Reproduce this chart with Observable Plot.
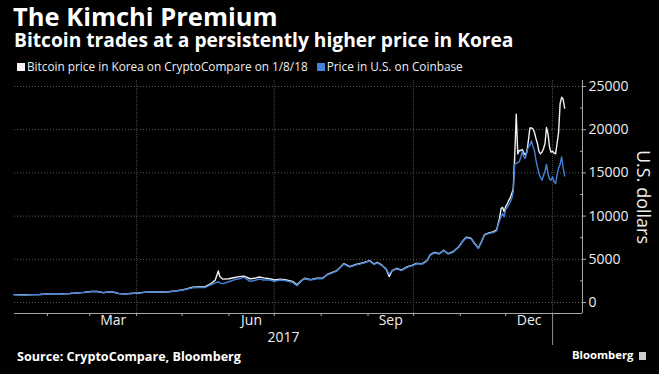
<!DOCTYPE html>
<html><head><meta charset="utf-8">
<script src="https://cdn.jsdelivr.net/npm/d3@7"></script>
<script src="https://cdn.jsdelivr.net/npm/@observablehq/plot@0.6"></script>
<style>
html,body{margin:0;padding:0;background:#000;}
#wrap{position:relative;width:659px;height:374px;background:#000;overflow:hidden;font-family:"Open Sans",sans-serif;color:#fff;}
#title{position:absolute;left:13px;top:3px;font-size:25.5px;font-weight:700;line-height:26px;white-space:nowrap;}
#subtitle{position:absolute;left:14px;top:30px;font-size:19.2px;font-weight:700;line-height:20px;white-space:nowrap;}
#legend{position:absolute;left:17px;top:58px;font-size:11.8px;line-height:16px;white-space:nowrap;color:#eee;}
#legend .sw{display:inline-block;width:8px;height:8px;margin-right:2px;vertical-align:0px;}
#legend .item{margin-right:9px;}
#chart{position:absolute;left:0;top:76px;}
#source{position:absolute;left:17px;top:348px;font-size:12.6px;font-weight:700;line-height:18px;white-space:nowrap;}
#brand{position:absolute;left:572px;top:346px;font-size:11.3px;font-weight:700;line-height:18px;white-space:nowrap;}
#brand .ic{display:inline-block;width:7px;height:8px;background:#ccc;margin-left:6px;vertical-align:-1px;}
</style>
</head><body>
<div id="wrap">
  <div id="title">The Kimchi Premium</div>
  <div id="subtitle">Bitcoin trades at a persistently higher price in Korea</div>
  <div id="legend"></div>
  <div id="chart"></div>
  <div id="source">Source: CryptoCompare, Bloomberg</div>
  <div id="brand">Bloomberg<span class="ic"></span></div>
</div>
<script>
// ---- data ----
const seriesNames = ["Bitcoin price in Korea on CryptoCompare on 1/8/18", "Price in U.S. on Coinbase"];
const seriesColors = ["#f2f2f2", "#4283d8"];
const dates = [
"2017-01-10","2017-01-14","2017-01-18","2017-01-22","2017-01-27","2017-02-01","2017-02-06","2017-02-11","2017-02-16","2017-02-21",
"2017-02-25","2017-03-02","2017-03-06","2017-03-10","2017-03-14","2017-03-17","2017-03-20","2017-03-24","2017-03-28","2017-04-02",
"2017-04-07","2017-04-12","2017-04-17","2017-04-22","2017-04-27","2017-05-01","2017-05-04","2017-05-08","2017-05-12","2017-05-16",
"2017-05-20","2017-05-23","2017-05-25","2017-05-26","2017-05-28","2017-06-01","2017-06-05","2017-06-08","2017-06-11","2017-06-15",
"2017-06-18","2017-06-21","2017-06-24","2017-06-28","2017-07-01","2017-07-05","2017-07-09","2017-07-13","2017-07-16","2017-07-19",
"2017-07-21","2017-07-25","2017-07-29","2017-08-02","2017-08-05","2017-08-08","2017-08-11","2017-08-14","2017-08-16","2017-08-20",
"2017-08-24","2017-08-29","2017-09-02","2017-09-05","2017-09-07","2017-09-10","2017-09-13","2017-09-15","2017-09-17","2017-09-20",
"2017-09-23","2017-09-27","2017-09-30","2017-10-03","2017-10-07","2017-10-10","2017-10-12","2017-10-15","2017-10-18","2017-10-21",
"2017-10-24","2017-10-27","2017-10-31","2017-11-03","2017-11-05","2017-11-08","2017-11-10","2017-11-13","2017-11-15","2017-11-17",
"2017-11-20","2017-11-23","2017-11-25","2017-11-26","2017-11-27","2017-11-28","2017-11-29","2017-11-30","2017-12-01","2017-12-02",
"2017-12-03","2017-12-04","2017-12-05","2017-12-06","2017-12-07","2017-12-08","2017-12-09","2017-12-10","2017-12-11","2017-12-12",
"2017-12-13","2017-12-14","2017-12-15","2017-12-16","2017-12-17","2017-12-18","2017-12-19","2017-12-20","2017-12-21","2017-12-22",
"2017-12-23","2017-12-24","2017-12-25","2017-12-26","2017-12-27","2017-12-28","2017-12-29","2017-12-30","2017-12-31","2018-01-01",
"2018-01-02","2018-01-03","2018-01-04","2018-01-05","2018-01-06","2018-01-07","2018-01-08","2018-01-09"];
const usPrice = [
905,880,885,905,920,990,1020,1000,1040,1100,
1160,1260,1270,1120,1240,1170,1040,950,1040,1090,
1190,1210,1200,1240,1330,1420,1530,1700,1720,1730,
2050,2280,2400,2250,2180,2400,2650,2750,2900,2450,
2550,2700,2600,2600,2450,2600,2500,2350,1950,2500,
2750,2600,2750,2750,3200,3400,3600,4100,4450,4100,
4350,4550,4800,4400,4600,4300,3900,3250,3700,3900,
3700,4100,4250,4480,4450,4800,5450,5750,5600,6000,
5600,5800,6400,7150,7500,7400,6900,6250,7000,7800,
8000,8100,8300,9000,9500,9950,10300,9900,10800,11000,
11300,11600,12000,12800,16000,16100,16200,16300,16800,17500,
16900,16700,17400,18000,18200,18700,18100,17600,16500,15700,
14900,14500,14150,14700,15200,15970,14900,14300,14150,14540,
14000,13770,14730,15580,16000,16860,15580,14660];
const koreaPrice = [
915,890,895,915,930,1000,1030,1010,1050,1110,
1170,1270,1280,1140,1250,1180,1060,970,1050,1100,
1200,1220,1210,1250,1350,1450,1570,1760,1790,1800,
2150,2600,3650,3000,2700,2750,2900,3000,3050,2750,
2800,2950,2850,2750,2600,2700,2600,2450,2050,2550,
2800,2650,2800,2800,3250,3450,3650,4150,4500,4150,
4400,4600,4850,4450,4650,4350,3850,3000,3700,3950,
3750,4150,4300,4530,4500,4850,5500,5800,5650,6050,
5650,5850,6450,7200,7550,7450,6950,6300,7050,7850,
8050,8200,8400,9100,9800,10900,11000,10500,11100,11400,
11800,12100,12600,13100,17000,21800,17200,17600,17600,17700,
17300,17100,17400,18700,20200,20200,20100,19700,19000,18400,
17500,17200,17400,17800,18400,20250,19500,18000,17400,17500,
17300,17200,18400,19700,23000,23750,23520,22500];
const yTicks = [0, 5000, 10000, 15000, 20000, 25000];
const yMinorTicks = [2500, 7500, 12500, 17500, 22500];
const monthLabels = ["Mar", "Jun", "Sep", "Dec"];
const monthLabelStarts = ["2017-03-01", "2017-06-01", "2017-09-01", "2017-12-01"];
const yearLabel = "2017";
const yearEnd = "2018-01-01";
const yAxisLabel = "U.S. dollars";

// ---- build ----
const parse = d3.utcParse("%Y-%m-%d");
const data = dates.map((d, i) => ({date: parse(d), us: usPrice[i], kr: koreaPrice[i]}));
const DAY = 864e5;
const t0 = Date.UTC(2017, 0, 1);
const xDomain = [new Date(t0 + 9.26 * DAY), new Date(t0 + 384.8 * DAY)];
const yDomain = [-1273, 25694];
const yearEndDate = parse(yearEnd);
const monthStarts = d3.utcMonths(new Date(Date.UTC(2017, 1, 1)), new Date(Date.UTC(2018, 0, 2)));
const quarterStarts = monthStarts.filter(d => d.getUTCMonth() % 3 === 0);
const monthLabelData = monthLabels.map((label, i) => {
  const s = parse(monthLabelStarts[i]);
  const e = d3.utcMonth.offset(s, 1);
  return {label, mid: new Date((+s + +e) / 2)};
});
const yearMid = new Date((+xDomain[0] + +yearEndDate) / 2);

document.getElementById("legend").innerHTML = seriesNames.map((n, i) =>
  `<span class="item"><span class="sw" style="background:${seriesColors[i]}"></span>${n}</span>`).join("");

const chart = Plot.plot({
  width: 659, height: 272,
  marginTop: 4, marginBottom: 35, marginLeft: 14, marginRight: 77,
  style: {background: "#000", color: "#fff", fontFamily: "'Open Sans', sans-serif", fontSize: "14px", overflow: "visible"},
  x: {type: "utc", domain: xDomain},
  y: {domain: yDomain},
  marks: [
    Plot.ruleY(yTicks, {stroke: "#5c5c5c", strokeDasharray: "1,2"}),
    Plot.ruleX(quarterStarts, {stroke: "#4a4a4a", strokeDasharray: "1,1"}),
    Plot.lineY(data, {x: "date", y: "kr", stroke: seriesColors[0], strokeWidth: 1.4}),
    Plot.lineY(data, {x: "date", y: "us", stroke: seriesColors[1], strokeWidth: 1.4}),
    Plot.ruleY([yDomain[0]], {stroke: "#a8a8a8"}),
    Plot.ruleX([xDomain[1]], {stroke: "#a8a8a8"}),
    Plot.axisX({ticks: monthStarts, tickSize: 3, tickFormat: () => "", stroke: "#a8a8a8", label: null}),
    Plot.axisX({ticks: [yearEndDate], tickSize: 32, tickFormat: () => "", stroke: "#8a8a8a", label: null}),
    Plot.text(monthLabelData, {x: "mid", text: "label", frameAnchor: "bottom", dy: 11, fill: "#eee", fontSize: 14}),
    Plot.text([yearLabel], {x: () => yearMid, text: d => d, frameAnchor: "bottom", dy: 28, fill: "#eee", fontSize: 14}),
    Plot.axisY({anchor: "right", ticks: yTicks, tickSize: 3, tickPadding: 3, tickFormat: d => String(d), stroke: "#a8a8a8", fill: "#eee", fontSize: 14, label: null}),
    Plot.axisY({anchor: "right", ticks: yMinorTicks, tickSize: 3, dx: -3, tickFormat: () => "", stroke: "#a8a8a8", label: null}),
    Plot.text([yAxisLabel], {frameAnchor: "right", text: d => d, rotate: 90, dx: 60, textAnchor: "middle", fill: "#eee", fontSize: 18})
  ]
});
document.getElementById("chart").appendChild(chart);
</script>
</body></html>
